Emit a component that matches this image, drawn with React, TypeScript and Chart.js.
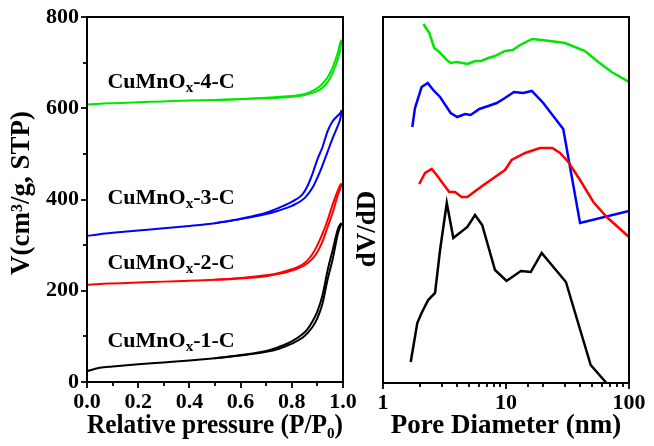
import React, { useEffect, useRef } from 'react';
import { Chart, registerables } from 'chart.js';

Chart.register(...registerables);

const FONT = '"Liberation Serif", "Times New Roman", serif';

// ---------- Left panel: N2 isotherms ----------
const adsP = [0, 0.05, 0.1, 0.2, 0.3, 0.4, 0.5, 0.6, 0.7, 0.75, 0.8, 0.85, 0.88, 0.9, 0.92, 0.94, 0.96, 0.98, 0.99, 0.995];
const desP = [0.995, 0.99, 0.98, 0.96, 0.94, 0.92, 0.9, 0.88, 0.86, 0.84, 0.8, 0.75, 0.7, 0.6, 0.5];

const ads1 = [24, 31, 34, 39, 43, 47, 52, 58, 66, 73, 84, 101, 120, 140, 172, 225, 270, 325, 342, 348];
const des1 = [348, 346, 335, 290, 245, 190, 155, 132, 115, 104, 89, 77, 68, 59, 52];
const ads2 = [213, 215, 216, 218, 220, 222, 224, 227, 232, 237, 244, 256, 270, 285, 308, 340, 372, 410, 425, 435];
const des2 = [435, 432, 420, 390, 355, 325, 300, 280, 266, 257, 247, 239, 234, 228, 224];
const ads3 = [320, 324, 327, 332, 337, 342, 348, 357, 368, 376, 386, 403, 425, 448, 475, 505, 535, 562, 578, 596];
const des3 = [596, 590, 584, 572, 550, 515, 488, 455, 428, 410, 395, 382, 371, 358, 348];
const ads4 = [608, 610, 611, 613, 615, 617, 618, 620, 622, 623, 625, 629, 634, 638, 645, 657, 678, 708, 730, 750];
const des4 = [750, 745, 722, 690, 668, 654, 644, 638, 633, 630, 627, 625, 623, 620, 618];

const sampleNames = ['1', '2', '3', '4'];
const sampleColors = ['#000000', '#ff0000', '#0000ff', '#00e600'];
const labelV = [77, 247, 391, 644];
const labelP = 0.08;

// ---------- Right panel: pore size distribution ----------
const psdX1 = [1.68, 1.9, 2.06, 2.33, 2.65, 2.91, 3.3, 3.73, 4.85, 5.6, 6.4, 8.14, 10.1, 13.2, 15.9, 19.5, 30.7, 48.8, 65.6];
const psdY1 = [21, 60, 70, 83, 90, 133, 180, 145, 156, 168, 158, 113, 102, 112, 111, 130, 101, 18, 0];
const psdX2 = [1.97, 2.2, 2.49, 2.73, 3.09, 3.46, 3.85, 4.36, 4.85, 5.78, 6.75, 8.14, 9.81, 11.1, 14.3, 18.9, 23.8, 27.5, 32.1, 40.0, 51.3, 65.9, 100];
const psdY2 = [199, 210, 214, 208, 199, 191, 191, 186, 186, 193, 199, 206, 213, 223, 230, 235, 235, 230, 221, 203, 181, 166, 146];
const psdX3 = [1.73, 1.82, 2.06, 2.31, 2.56, 2.91, 3.55, 4.02, 4.64, 5.16, 6.07, 7.18, 8.4, 9.81, 11.6, 13.8, 16.2, 20.1, 24.2, 29.2, 40.0, 100];
const psdY3 = [256, 275, 296, 300, 293, 286, 270, 266, 269, 268, 274, 277, 280, 285, 291, 290, 292, 280, 267, 254, 160, 172];
const psdX4 = [2.13, 2.38, 2.61, 2.87, 3.3, 3.55, 3.97, 4.45, 4.88, 5.6, 6.26, 7.18, 8.14, 9.81, 11.34, 13.0, 16.36, 22.8, 30.2, 43.9, 56.3, 72.3, 100];
const psdY4 = [359, 350, 335, 331, 323, 320, 321, 320, 319, 322, 322, 325, 327, 332, 333, 338, 344, 342, 340, 332, 321, 311, 301];

const leftXTicks = ['0.0', '0.2', '0.4', '0.6', '0.8', '1.0'];
const leftYTicks = [0, 200, 400, 600, 800];
const rightXTicks = [1, 10, 100];

const zip = (xs: number[], ys: number[]) => xs.map((x, i) => ({ x, y: ys[i] }));

// frame box + outward tick marks (major = labelled, minor = unlabelled) from the library's scale ticks
const framePlugin = {
  id: 'frame',
  afterDraw(chart: any, _args: any, opts: any) {
    const { ctx, chartArea: a } = chart;
    ctx.save();
    ctx.strokeStyle = '#000';
    ctx.lineWidth = 2;
    ctx.strokeRect(a.left, a.top, a.right - a.left, a.bottom - a.top);
    ctx.lineWidth = 1.8;
    (opts.axes || []).forEach((id: string) => {
      const sc = chart.scales[id];
      sc.ticks.forEach((t: any) => {
        const labelled = t.label !== '' && t.label !== undefined && t.label !== null;
        const len = labelled ? 6 : 4;
        const p = Math.round(sc.getPixelForValue(t.value));
        ctx.beginPath();
        if (sc.isHorizontal()) {
          ctx.moveTo(p, a.bottom);
          ctx.lineTo(p, a.bottom + len);
        } else {
          ctx.moveTo(a.left, p);
          ctx.lineTo(a.left - len, p);
        }
        ctx.stroke();
      });
    });
    ctx.restore();
  },
};

const yTitlePlugin = {
  id: 'yTitle',
  afterDraw(chart: any, _args: any, opts: any) {
    const ctx = chart.ctx;
    ctx.save();
    ctx.translate(opts.x, opts.y);
    ctx.rotate(-Math.PI / 2);
    ctx.font = `bold ${opts.size}px ${FONT}`;
    ctx.fillStyle = '#000';
    ctx.textAlign = 'center';
    ctx.textBaseline = 'middle';
    ctx.fillText(opts.text, 0, 0);
    ctx.restore();
  },
};

const curveLabelPlugin = {
  id: 'curveLabels',
  afterDatasetsDraw(chart: any) {
    const { ctx, scales } = chart;
    ctx.save();
    ctx.fillStyle = '#000';
    ctx.textBaseline = 'alphabetic';
    ctx.textAlign = 'left';
    sampleNames.forEach((n, i) => {
      let px = scales.x.getPixelForValue(labelP);
      const py = scales.y.getPixelForValue(labelV[i]);
      ctx.font = `bold 22px ${FONT}`;
      ctx.fillText('CuMnO', px, py);
      px += ctx.measureText('CuMnO').width;
      ctx.font = `bold 15px ${FONT}`;
      ctx.fillText('x', px, py + 4);
      px += ctx.measureText('x').width;
      ctx.font = `bold 22px ${FONT}`;
      ctx.fillText(`-${n}-C`, px, py);
    });
    ctx.restore();
  },
};

const tickFont = { family: FONT, size: 22, weight: 'bold' as const };
const titleFont = { family: FONT, size: 27, weight: 'bold' as const };
// library tick space kept (so labels sit clear of the axis); marks themselves drawn by framePlugin
const spacerGrid = { display: true, drawOnChartArea: false, drawTicks: true, tickLength: 6, tickColor: 'rgba(0,0,0,0)', color: 'rgba(0,0,0,0)' };

export default function App() {
  const leftRef = useRef<HTMLCanvasElement>(null);
  const rightRef = useRef<HTMLCanvasElement>(null);

  useEffect(() => {
    const adsSets = [ads1, ads2, ads3, ads4];
    const desSets = [des1, des2, des3, des4];
    const leftDatasets: any[] = [];
    sampleNames.forEach((n, i) => {
      leftDatasets.push({
        label: `CuMnOx-${n}-C ads`,
        data: zip(adsP, adsSets[i]),
        borderColor: sampleColors[i],
        borderWidth: 2,
        pointRadius: 0,
        showLine: true,
        cubicInterpolationMode: 'monotone',
      });
      leftDatasets.push({
        label: `CuMnOx-${n}-C des`,
        data: zip(desP, desSets[i]),
        borderColor: sampleColors[i],
        borderWidth: 2,
        pointRadius: 0,
        showLine: true,
        cubicInterpolationMode: 'monotone',
      });
    });

    const left = new Chart(leftRef.current!, {
      type: 'scatter',
      data: { datasets: leftDatasets },
      options: {
        animation: false,
        responsive: false,
        layout: { padding: { top: 17, right: 17, left: 0, bottom: 0 } },
        plugins: {
          legend: { display: false },
          tooltip: { enabled: false },
          yTitle: { text: 'V(cm³/g, STP)', x: 22, y: 193, size: 27 },
          frame: { axes: ['x', 'y'] },
        } as any,
        scales: {
          x: {
            type: 'linear',
            min: 0,
            max: 1,
            ticks: {
              stepSize: 0.1,
              autoSkip: false,
              maxRotation: 0,
              color: '#000',
              font: tickFont,
              padding: 1,
              callback: (v: any) => {
                const s = Number(v).toFixed(1);
                return leftXTicks.includes(s) ? s : '';
              },
            },
            grid: spacerGrid,
            border: { display: true, color: '#000', width: 2 },
            title: { display: true, text: 'Relative pressure (P/P₀)', color: '#000', font: titleFont, padding: { top: 0, bottom: 4 } },
            afterFit: (s: any) => { s.height = 64; },
          },
          y: {
            type: 'linear',
            min: 0,
            max: 800,
            ticks: {
              stepSize: 100,
              autoSkip: false,
              color: '#000',
              font: tickFont,
              padding: 2,
              callback: (v: any) => (leftYTicks.includes(Number(v)) ? String(v) : ''),
            },
            grid: spacerGrid,
            border: { display: true, color: '#000', width: 2 },
            afterFit: (s: any) => { s.width = 87; },
          },
        },
      } as any,
      plugins: [framePlugin, yTitlePlugin, curveLabelPlugin],
    });

    const psdXs = [psdX1, psdX2, psdX3, psdX4];
    const psdYs = [psdY1, psdY2, psdY3, psdY4];
    const rightDatasets = sampleNames.map((n, i) => ({
      label: `CuMnOx-${n}-C`,
      data: zip(psdXs[i], psdYs[i]),
      borderColor: sampleColors[i],
      borderWidth: 2.5,
      pointRadius: 0,
      showLine: true,
      tension: 0,
    }));

    const right = new Chart(rightRef.current!, {
      type: 'scatter',
      data: { datasets: rightDatasets },
      options: {
        animation: false,
        responsive: false,
        layout: { padding: { top: 17, right: 25, left: 0, bottom: 0 } },
        plugins: {
          legend: { display: false },
          tooltip: { enabled: false },
          yTitle: { text: 'dV/dD', x: 16, y: 229, size: 27 },
          frame: { axes: ['x'] },
        } as any,
        scales: {
          x: {
            type: 'logarithmic',
            min: 1,
            max: 100,
            ticks: {
              autoSkip: false,
              maxRotation: 0,
              color: '#000',
              font: tickFont,
              padding: 1,
              callback: (v: any) => (rightXTicks.includes(Number(v)) ? String(v) : ''),
            },
            grid: spacerGrid,
            border: { display: true, color: '#000', width: 2 },
            title: { display: true, text: 'Pore Diameter (nm)', color: '#000', font: titleFont, padding: { top: 0, bottom: 4 } },
            afterFit: (s: any) => { s.height = 63; },
          },
          y: {
            type: 'linear',
            min: 0,
            max: 366,
            ticks: { display: false },
            grid: { display: false, drawTicks: false },
            border: { display: true, color: '#000', width: 2 },
            afterFit: (s: any) => { s.width = 31; },
          },
        },
      } as any,
      plugins: [framePlugin, yTitlePlugin],
    });

    return () => {
      left.destroy();
      right.destroy();
    };
  }, []);

  return (
    <div style={{ position: 'fixed', left: 0, top: 0, width: 654, height: 446, background: '#fff' }}>
      <canvas ref={leftRef} width={360} height={446} style={{ position: 'absolute', left: 0, top: 0, width: 360, height: 446 }} />
      <canvas ref={rightRef} width={302} height={446} style={{ position: 'absolute', left: 352, top: 0, width: 302, height: 446 }} />
    </div>
  );
}
